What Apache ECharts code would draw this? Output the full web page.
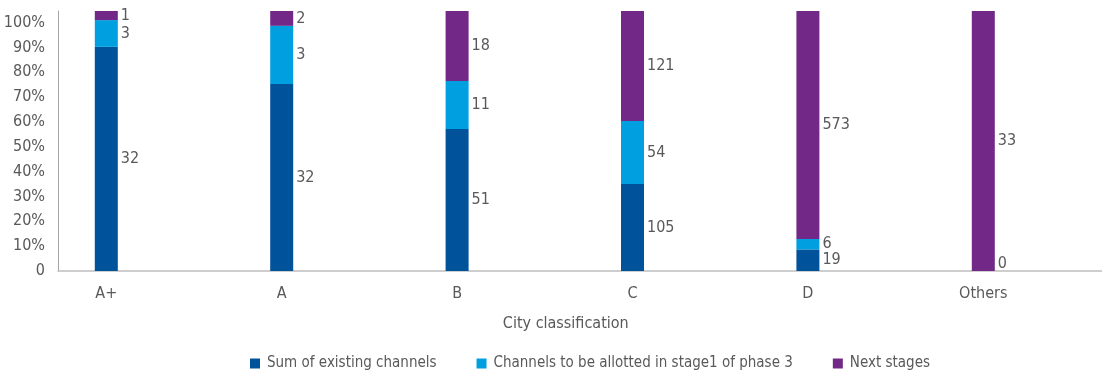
<!DOCTYPE html>
<html>
<head>
<meta charset="utf-8">
<script src="https://cdn.jsdelivr.net/npm/echarts@6/dist/echarts.min.js"></script>
<style>
  html, body { margin: 0; padding: 0; background: #fff; }
  #chart { width: 1102px; height: 374px; }
</style>
</head>
<body>
<div id="chart"></div>
<script>
var categories = ['A+', 'A', 'B', 'C', 'D', 'Others'];
// channel counts shown as labels
var existing = [32, 32, 51, 105, 19, 0];
var stage1 = [3, 3, 11, 54, 6, null];
var nextStages = [1, 2, 18, 121, 573, 33];
// share of each bar (%)
var existingShare = [86.2, 71.9, 54.6, 33.5, 8.3, 0];
var stage1Share = [10.3, 22.4, 18.5, 24.2, 4.0, null];
var nextShare = [3.5, 5.7, 26.9, 42.3, 87.7, 100];
var seriesNames = ['Sum of existing channels', 'Channels to be allotted in stage1 of phase 3', 'Next stages'];
var colors = ['#00529B', '#009FDF', '#722887'];

var textColor = '#595959';
var font = "'Liberation Sans Narrow', 'DejaVu Sans Condensed', 'Roboto', sans-serif";

function makeData(shares, counts) {
  return shares.map(function (s, i) {
    if (s === null) return null;
    var item = { value: s, raw: counts[i] };
    if (s === 0) item.label = { offset: [0, -7] };
    return item;
  });
}

var myChart = echarts.init(document.getElementById('chart'));

var shares = [existingShare, stage1Share, nextShare];
var counts = [existing, stage1, nextStages];

var option = {
  animation: false,
  textStyle: { fontFamily: font },
  color: colors,
  grid: [
    { left: 58, right: 0, top: 11, bottom: 103 },
    { left: 18.6, right: 31, top: 11, bottom: 103 }
  ],
  legend: {
    left: 245,
    top: 351,
    itemWidth: 10,
    itemHeight: 10,
    itemGap: 40,
    icon: 'rect',
    textStyle: { color: textColor, fontSize: 15, fontFamily: font, padding: [0, 0, 0, 2] },
    data: seriesNames
  },
  xAxis: [
    {
      gridIndex: 0,
      type: 'value',
      min: 0,
      max: 1,
      axisLine: { show: true, onZero: false, lineStyle: { color: '#BFBFBF', width: 1.5 } },
      axisTick: { show: false },
      axisLabel: { show: false },
      splitLine: { show: false }
    },
    {
      gridIndex: 1,
      type: 'category',
      data: categories,
      axisLine: { show: false },
      axisTick: { show: false },
      axisLabel: { color: textColor, fontSize: 16, margin: 15, fontFamily: font },
      name: 'City classification',
      nameLocation: 'middle',
      nameGap: 45,
      nameTextStyle: { color: textColor, fontSize: 16, fontFamily: font, padding: [0, 0, 0, 42] }
    }
  ],
  yAxis: [
    {
      gridIndex: 0,
      type: 'value',
      min: 0,
      max: 104.7,
      interval: 10,
      axisLine: { show: true, lineStyle: { color: '#A6A6A6', width: 1 } },
      axisTick: { show: false },
      splitLine: { show: false },
      axisLabel: {
        color: textColor,
        fontSize: 16,
        margin: 13,
        fontFamily: font,
        showMaxLabel: false,
        formatter: function (v) {
          if (v > 100.5) return '';
          return v === 0 ? '0' : Math.round(v) + '%';
        }
      }
    },
    {
      gridIndex: 1,
      type: 'value',
      min: 0,
      max: 100,
      show: false
    }
  ],
  series: shares.map(function (arr, k) {
    return {
      name: seriesNames[k],
      type: 'bar',
      xAxisIndex: 1,
      yAxisIndex: 1,
      stack: 'total',
      barWidth: 23,
      data: makeData(arr, counts[k]),
      label: {
        show: true,
        position: 'right',
        distance: 3,
        color: textColor,
        fontSize: 16,
        fontFamily: font,
        formatter: function (p) { return p.data.raw; }
      }
    };
  })
};

myChart.setOption(option);
</script>
</body>
</html>
